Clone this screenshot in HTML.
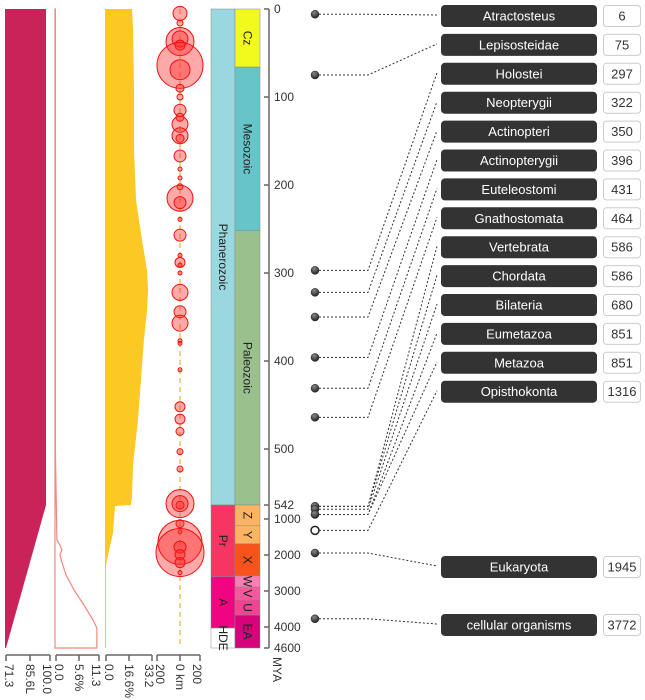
<!DOCTYPE html>
<html><head><meta charset="utf-8">
<style>
html,body{margin:0;padding:0;background:#fff;}
svg{display:block;font-family:"Liberation Sans",sans-serif;}
</style></head>
<body>
<svg id="c" width="645" height="700" viewBox="0 0 645 700"></svg>
<script>
// ---- data ----
const timeKnots = [0, 500, 542, 1000, 2000, 3000, 4000, 4600];
const axisTicks = [0, 100, 200, 300, 400, 500, 542, 1000, 2000, 3000, 4000, 4600];
const col1Times = [0, 542, 4600];
const col1Values = [97.4, 97.4, 71.3];
const col1Ticks = ["71.3", "85.6L", "100.0"];
const col2Times = [0, 500, 1583, 1722, 1861, 2000, 2194, 2556, 2972, 3389, 3806, 4028, 4600];
const col2Values = [0.1, 0.1, 0.5, 1.3, 1.8, 1.3, 1.8, 2.9, 5.0, 7.6, 10.0, 11.0, 11.0];
const col2Ticks = ["0.0", "5.6%", "11.3"];
const col3Times = [0, 24, 92, 160, 217, 262, 297, 320, 342, 376, 421, 467, 512, 535, 542, 560, 580, 1400, 2140, 2470];
const col3Values = [19.1, 19.8, 20.5, 20.5, 21.9, 26.1, 29.7, 30.4, 29.7, 27.5, 25.4, 23.3, 19.8, 19.1, 18.4, 11.3, 7.1, 5.6, 1.4, 0];
const col3Ticks = ["0.0", "16.6%", "33.2"];
const col4Ticks = ["200", "0 km", "200"];
const eventTimes = [5, 16, 37, 34, 41, 64, 69, 90, 100, 115, 123, 131, 144, 147, 167, 182, 192, 202, 215, 220, 239, 257, 280, 288, 291, 300, 322, 344, 357, 377, 380, 410, 452, 466, 480, 502, 515, 541, 541, 550, 1130, 1350, 1650, 1930, 1780, 1990, 2210, 2490];
const eventSizes = [7, 3, 14, 8, 5, 23, 10, 4, 3, 6, 4, 8, 8, 4, 6, 2, 2, 3, 13, 6, 2, 6, 2, 5, 2, 2, 8, 6, 8, 2, 2, 2, 5, 5, 4, 3, 3, 14, 8, 4, 4, 2, 22, 24, 6, 5, 5, 2];
const taxa = ["Atractosteus","Lepisosteidae","Holostei","Neopterygii","Actinopteri","Actinopterygii","Euteleostomi","Gnathostomata","Vertebrata","Chordata","Bilateria","Eumetazoa","Metazoa","Opisthokonta","Eukaryota","cellular organisms"];
const taxaTimes = [6, 75, 297, 322, 350, 396, 431, 464, 586, 586, 680, 851, 851, 1316, 1945, 3772];
const eon = [["Phanerozoic",0,542,"#9ad8e0"],["Pr",542,2600,"#f73563"],["A",2600,4030,"#f0047f"],["HDE",4030,4600,"#ffffff"]];
const era = [["Cz",0,66,"#f2f91d"],["Mesozoic",66,252,"#67c5ca"],["Paleozoic",252,542,"#99c08d"],["Z",542,1190,"#fdb462"],["Y",1190,1690,"#fdb462"],["X",1690,2580,"#f8531b"],["W",2580,2890,"#f87fb0"],["V",2890,3250,"#f6589c"],["U",3250,3670,"#f34291"],["EA",3670,4600,"#d6037c"]];
// ---- scales ----
const knotY = [9, 449, 505, 519, 555, 591, 627, 648];
function ty(t){for(let i=1;i<timeKnots.length;i++){if(t<=timeKnots[i]){const a=timeKnots[i-1],b=timeKnots[i];return knotY[i-1]+(t-a)/(b-a)*(knotY[i]-knotY[i-1]);}}return knotY[knotY.length-1];}
const x1=v=>6+(v-71.3)/(100-71.3)*44;
const x2=v=>55+v/11.3*43;
const x3=v=>105+v/33.2*47;
const NS="http://www.w3.org/2000/svg";
const svg=document.getElementById('c');
function mk(tag,attrs,parent){const e=document.createElementNS(NS,tag);for(const k in attrs)e.setAttribute(k,attrs[k]);(parent||svg).appendChild(e);return e;}
const defs=mk('defs',{});
const g=mk('radialGradient',{id:'nodeg',cx:'0.4',cy:'0.3',r:'0.7'},defs);
mk('stop',{offset:'0','stop-color':'#888'},g);mk('stop',{offset:'1','stop-color':'#222'},g);

let d="M5,"+ty(0);
col1Times.forEach((t,i)=>{d+=" L"+x1(col1Values[i])+","+ty(t);});
d+=" L5,"+ty(4600)+" Z";
let e=mk('path',{d:d,fill:'#c9235a'});

d="M55,"+ty(0);
col2Times.forEach((t,i)=>{d+=" L"+x2(col2Values[i])+","+ty(t);});
d+=" L55,"+ty(4600)+" Z";
e=mk('path',{d:d,fill:'none',stroke:'#f08a7a','stroke-width':'1.2'});

d="M105,"+ty(0);
col3Times.forEach((t,i)=>{d+=" L"+x3(col3Values[i])+","+ty(t);});
d+=" L105,"+ty(col3Times[col3Times.length-1])+" Z";
e=mk('path',{d:d,fill:'#fcc824'});

mk('line',{x1:105.5,y1:ty(0),x2:105.5,y2:ty(4600),stroke:'#fcc824','stroke-width':1});
e=mk('line',{x1:180,y1:ty(0),x2:180,y2:ty(4600),stroke:'#f5c060','stroke-width':1.5,'stroke-dasharray':'5,4'});

eventTimes.forEach((t,i)=>{
  const c=mk('circle',{cx:180,cy:ty(t),r:eventSizes[i],fill:'rgba(255,40,40,0.4)',stroke:'#ee1111','stroke-width':1});
  
  
});
function band(list,x,w,prefix){list.forEach(b=>{const y0=ty(b[1]),y1=ty(b[2]);
  const r=mk('rect',{x:x,y:y0,width:w,height:y1-y0,fill:b[3],stroke:'#888','stroke-width':0.5});
  
  
  if(y1-y0>8){const tx=mk('text',{x:0,y:0,'font-size':12,fill:'#222','text-anchor':'middle','dominant-baseline':'central',transform:`translate(${x+w/2},${(y0+y1)/2}) rotate(90)`});tx.textContent=b[0];}
});}
band(eon,211,24,'eon');
band(era,235,25,'era');
e=mk('line',{x1:269,y1:ty(0),x2:269,y2:ty(4600),stroke:'#666','stroke-width':1.5});

axisTicks.forEach(t=>{const y=ty(t);mk('line',{x1:264,y1:y,x2:269,y2:y,stroke:'#666','stroke-width':1.5});
  const tx=mk('text',{x:274,y:y,'font-size':12,fill:'#333','dominant-baseline':'central'});tx.textContent=t;
  });
let mya=mk('text',{x:0,y:0,'font-size':12,fill:'#333','dominant-baseline':'central',transform:'translate(277,657) rotate(90)'});mya.textContent='MYA';

function baxis(xs,labels,name){mk('line',{x1:xs[0],y1:655,x2:xs[2],y2:655,stroke:'#666','stroke-width':1.5});
  const off=[3,0,-3];
  xs.forEach((x,i)=>{mk('line',{x1:x,y1:655,x2:x,y2:661,stroke:'#666','stroke-width':1.5});
    const tx=mk('text',{x:0,y:0,'font-size':12,fill:'#333','dominant-baseline':'central',transform:`translate(${x+off[i]},664) rotate(90)`});tx.textContent=labels[i];
    });}
baxis([6,30,50],col1Ticks,'col1');
baxis([56,79,99],col2Ticks,'col2');
baxis([106,129,152],col3Ticks,'col3');
baxis([157,180,200],col4Ticks,'col4');
taxa.forEach((name,i)=>{
  const by = i<14 ? 16+i*28.9 : (i==14?567:625);
  const ny = ty(taxaTimes[i]);
  const pts = `315,${ny} 368,${ny} 437,${by-1}`;
  mk('polyline',{points:pts,fill:'none',stroke:'#333','stroke-width':1,'stroke-dasharray':'2,2'});
  const open = (i==13);
  const c=mk('circle',{cx:315,cy:ny,r:4,fill:open?'#fff':'url(#nodeg)',stroke:'#222','stroke-width':open?1.5:0.5});
  
  const r=mk('rect',{x:441,y:by-11,width:156,height:22,rx:4,fill:'#333'});
  
  const t=mk('text',{x:519,y:by,'font-size':13,fill:'#fff','text-anchor':'middle','dominant-baseline':'central'});t.textContent=name;
  
  const nb=mk('rect',{x:603.5,y:by-10.5,width:37,height:21,rx:3,fill:'#fff',stroke:'#ccc','stroke-width':1});
  
  const nt=mk('text',{x:622,y:by,'font-size':13,fill:'#333','text-anchor':'middle','dominant-baseline':'central'});nt.textContent=taxaTimes[i];
  
});
</script>
</body></html>
